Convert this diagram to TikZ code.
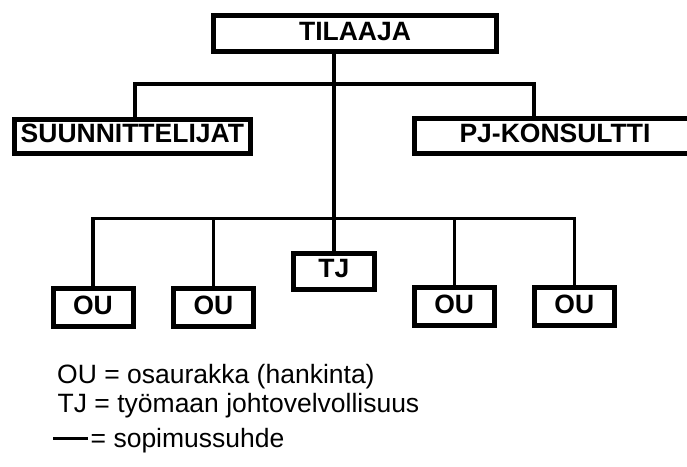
\documentclass[tikz,border=0pt]{standalone}
\usepackage{fontspec}
\setmainfont{Liberation Sans}
\begin{document}
\begin{tikzpicture}[x=1pt,y=-1pt,
  box/.style={draw, line width=5pt, inner sep=0pt, text height=19pt, text depth=6pt,
    font=\fontsize{26.5}{30}\selectfont\bfseries},
  link/.style={line width=3.3pt},
  legend/.style={anchor=base west, inner sep=0pt, font=\fontsize{26.5}{30}\selectfont}]
\useasboundingbox (0,0) rectangle (687,466);
\fill[white] (0,0) rectangle (687,466);
\begin{scope}
\clip (0,0) rectangle (687,466);
% organisation boxes
\node[box, minimum width=283pt,   minimum height=35.4pt] (tilaaja) at (355,33.5)   {TILAAJA};
\node[box, minimum width=236.3pt, minimum height=34.3pt] (suun)    at (132.35,136.3) {SUUNNITTELIJAT};
\node[box, minimum width=281pt,   minimum height=35pt]   (pj)      at (555,136)    {PJ-KONSULTTI};
\node[box, minimum width=80.7pt,  minimum height=35.7pt] (tj)      at (333.85,271.3) {TJ};
\node[box, minimum width=80pt,    minimum height=38pt]   (ou1)     at (93,307.5)   {OU};
\node[box, minimum width=80pt,    minimum height=38pt]   (ou2)     at (213.4,307.5) {OU};
\node[box, minimum width=80pt,    minimum height=38pt]   (ou3)     at (454.2,306.5) {OU};
\node[box, minimum width=80pt,    minimum height=38pt]   (ou4)     at (574.3,306.5) {OU};
% contract lines
\coordinate (ul) at (135,84);
\coordinate (ur) at (534,84);
\coordinate (bus) at (0,218.7);
\draw[link] (tilaaja.south -| tj.north) -- (tj.north);
\draw[link] (ul |- suun.north) -- (ul) -- (ur) -- (ur |- pj.north);
\draw[link] (ou1.north) -- (ou1 |- bus) -- (ou4 |- bus) -- (ou4.north);
\draw[link] (ou2.north) -- (ou2 |- bus);
\draw[link] (ou3.north) -- (ou3 |- bus);
\end{scope}
% key
\node[legend] (oudef) at (57,383) {OU = osaurakka (hankinta)};
\node[legend] (tjdef) at (57.5,412) {TJ = työmaan johtovelvollisuus};
\coordinate (keya) at (53,438.7);
\coordinate (keyb) at (88,438.7);
\draw[link] (keya) -- (keyb);
\node[legend] (keydef) at (90.5,447) {= sopimussuhde};
\end{tikzpicture}
\end{document}
